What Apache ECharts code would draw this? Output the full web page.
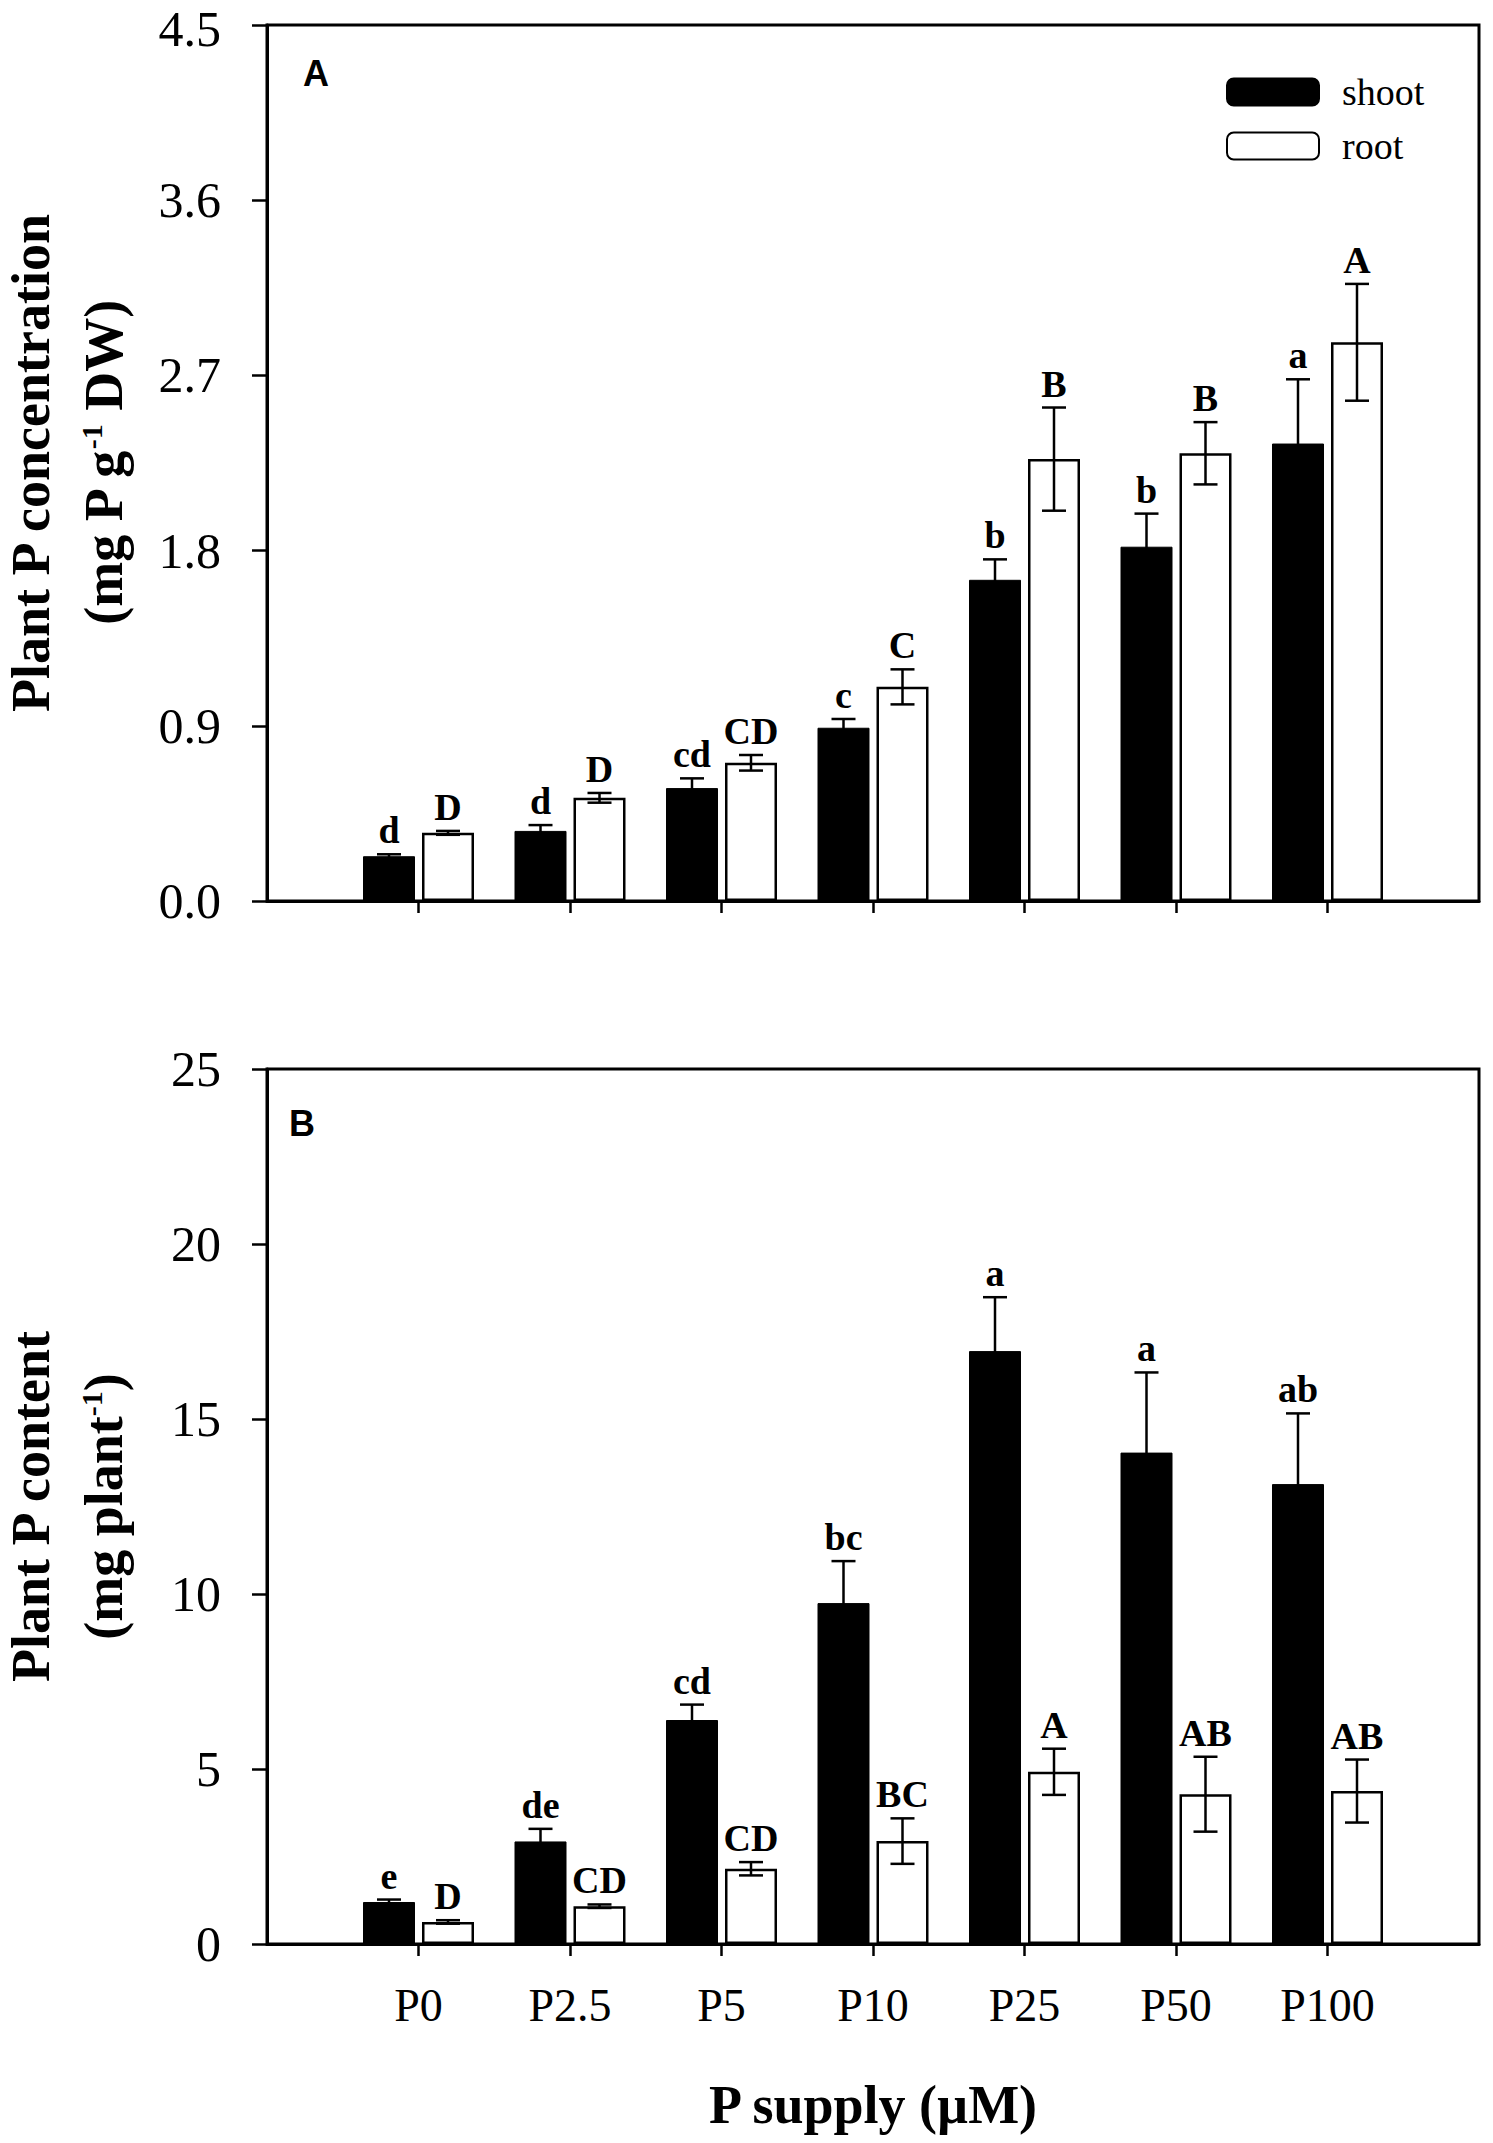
<!DOCTYPE html>
<html><head><meta charset="utf-8">
<script src="https://cdn.jsdelivr.net/npm/echarts@6/dist/echarts.min.js"></script>
<style>html,body{margin:0;padding:0;background:#fff}#c{width:1493px;height:2143px}</style>
</head><body><div id="c"></div>
<script>
// ---- data ----
const categories = ['P0', 'P2.5', 'P5', 'P10', 'P25', 'P50', 'P100'];
const concShoot = [0.23, 0.36, 0.58, 0.89, 1.65, 1.82, 2.35];
const concShootErr = [0.01, 0.03, 0.05, 0.045, 0.105, 0.17, 0.33];
const concRoot = [0.35, 0.53, 0.71, 1.10, 2.27, 2.30, 2.87];
const concRootErr = [0.01, 0.025, 0.04, 0.09, 0.265, 0.16, 0.30];
const concShootLetters = ['d', 'd', 'cd', 'c', 'b', 'b', 'a'];
const concRootLetters = ['D', 'D', 'CD', 'C', 'B', 'B', 'A'];
const contShoot = [1.2, 2.93, 6.4, 9.74, 16.94, 14.04, 13.14];
const contShootErr = [0.07, 0.36, 0.44, 1.2, 1.54, 2.29, 2.02];
const contRoot = [0.63, 1.08, 2.15, 2.94, 4.92, 4.28, 4.37];
const contRootErr = [0.05, 0.05, 0.19, 0.65, 0.66, 1.07, 0.9];
const contShootLetters = ['e', 'de', 'cd', 'bc', 'a', 'a', 'ab'];
const contRootLetters = ['D', 'CD', 'CD', 'BC', 'A', 'AB', 'AB'];
const concAxis = { min: 0, max: 4.5, interval: 0.9 };
const contAxis = { min: 0, max: 25, interval: 5 };
const seriesNames = ['shoot', 'root'];
const panelLabels = ['A', 'B'];
const xTitle = 'P supply (\u00B5M)';

// ---- style ----
const SERIF = '"Liberation Serif", "Times New Roman", serif';
const BAR_W = 52, BAR_GAP_PX = 7, CAP = 12, LW = 2.5;
const OFF = (BAR_W + BAR_GAP_PX) / 2;
const axisCats = [''].concat(categories, ['']);

const chart = echarts.init(document.getElementById('c'), null, { renderer: 'svg' });

function xAxisDef(gi, showLabels) {
  return {
    type: 'category', gridIndex: gi, data: axisCats, boundaryGap: false,
    axisLine: { lineStyle: { color: '#000', width: 3 } },
    axisTick: { length: 12, lineStyle: { color: '#000', width: LW },
      interval: function (i) { return i > 0 && i < axisCats.length - 1; } },
    axisLabel: { show: showLabels, interval: 0, margin: 38, color: '#000', fontFamily: SERIF, fontSize: 46 },
    splitLine: { show: false },
    name: showLabels ? xTitle : '', nameLocation: 'middle', nameGap: 134,
    nameTextStyle: { fontFamily: SERIF, fontWeight: 'bold', fontSize: 54, color: '#000' }
  };
}
function yAxisDef(gi, ax, decimals, name) {
  return {
    type: 'value', gridIndex: gi, min: ax.min, max: ax.max, interval: ax.interval,
    axisLine: { show: true, lineStyle: { color: '#000', width: 3 } },
    axisTick: { show: true, length: 15, lineStyle: { color: '#000', width: LW } },
    axisLabel: { margin: 46, color: '#000', fontFamily: SERIF, fontSize: 50,
      formatter: v => (v === ax.max && gi === 0) ? '{t|' + v.toFixed(decimals) + '}' : v.toFixed(decimals),
      rich: { t: { fontFamily: SERIF, fontSize: 50, color: '#000', padding: [8, 0, 0, 0] } } },
    splitLine: { show: false },
    name: name, nameLocation: 'middle', nameRotate: 90, nameGap: 127,
    nameTextStyle: { fontFamily: SERIF, fontWeight: 'bold', fontSize: 54, color: '#000', lineHeight: 73,
      rich: {
        b: { fontFamily: SERIF, fontWeight: 'bold', fontSize: 54, color: '#000', lineHeight: 73 },
        sup: { fontFamily: SERIF, fontWeight: 'bold', fontSize: 30, color: '#000', lineHeight: 30, padding: [0, 0, 24, 0] }
      } }
  };
}
function barSeries(gi, name, vals, isShoot) {
  return {
    type: 'bar', name: name, xAxisIndex: gi, yAxisIndex: gi,
    barWidth: BAR_W, barGap: (BAR_GAP_PX / BAR_W * 100) + '%',
    data: vals.map((v, i) => [categories[i], v]),
    itemStyle: isShoot ? { color: '#000', borderColor: '#000', borderWidth: 1 }
                       : { color: '#fff', borderColor: '#000', borderWidth: LW },
    emphasis: { disabled: true }, animation: false
  };
}
function errSeries(gi, vals, errs, letters, sign) {
  return {
    type: 'custom', xAxisIndex: gi, yAxisIndex: gi, z: 10, animation: false,
    data: vals.map((v, i) => [categories[i], v, errs[i]]),
    renderItem: function (params, api) {
      const c = api.value(0), v = api.value(1), e = api.value(2);
      const top = api.coord([c, v + e]);
      const bot = api.coord([c, v - e]);
      const x = top[0] + sign * OFF;
      const st = { stroke: '#000', lineWidth: LW };
      return { type: 'group', children: [
        { type: 'line', shape: { x1: x, y1: top[1], x2: x, y2: bot[1] }, style: st },
        { type: 'line', shape: { x1: x - CAP, y1: top[1], x2: x + CAP, y2: top[1] }, style: st },
        { type: 'line', shape: { x1: x - CAP, y1: bot[1], x2: x + CAP, y2: bot[1] }, style: st },
        { type: 'text', style: { text: letters[params.dataIndex], x: x, y: top[1] - 5,
          align: 'center', verticalAlign: 'bottom', textAlign: 'center', textVerticalAlign: 'bottom',
          fontFamily: SERIF, fontWeight: 'bold', fontSize: 38, fill: '#000' } }
      ] };
    }
  };
}

const gridBase = { left: 267, width: 1212, show: true, borderColor: '#000', borderWidth: 3,
  backgroundColor: 'transparent', containLabel: false, outerBoundsMode: 'none' };

const option = {
  backgroundColor: '#fff',
  animation: false,
  title: [
    { text: panelLabels[0], left: 303, top: 55, textStyle: { fontFamily: '"Liberation Sans", Arial, sans-serif', fontWeight: 'bold', fontSize: 36, color: '#000' }, padding: 0 },
    { text: panelLabels[1], left: 289, top: 1105, textStyle: { fontFamily: '"Liberation Sans", Arial, sans-serif', fontWeight: 'bold', fontSize: 36, color: '#000' }, padding: 0 }
  ],
  legend: {
    data: seriesNames, orient: 'vertical', left: 1226, top: 73, padding: 0,
    itemWidth: 92, itemHeight: 27, itemGap: 16, selectedMode: false,
    textStyle: { fontFamily: SERIF, fontSize: 38, color: '#000', padding: [0, 0, 0, 18] }
  },
  grid: [
    Object.assign({}, gridBase, { top: 25, height: 876 }),
    Object.assign({}, gridBase, { top: 1069, height: 875 })
  ],
  xAxis: [xAxisDef(0, false), xAxisDef(1, true)],
  yAxis: [
    yAxisDef(0, concAxis, 1, '{b|Plant P concentration}\n{b|(mg P g}{sup|-1}{b| DW)}'),
    yAxisDef(1, contAxis, 0, '{b|Plant P content}\n{b|(mg plant}{sup|-1}{b|)}')
  ],
  series: [
    barSeries(0, seriesNames[0], concShoot, true),
    barSeries(0, seriesNames[1], concRoot, false),
    errSeries(0, concShoot, concShootErr, concShootLetters, -1),
    errSeries(0, concRoot, concRootErr, concRootLetters, 1),
    barSeries(1, seriesNames[0], contShoot, true),
    barSeries(1, seriesNames[1], contRoot, false),
    errSeries(1, contShoot, contShootErr, contShootLetters, -1),
    errSeries(1, contRoot, contRootErr, contRootLetters, 1)
  ]
};
chart.setOption(option);
</script>
</body></html>
